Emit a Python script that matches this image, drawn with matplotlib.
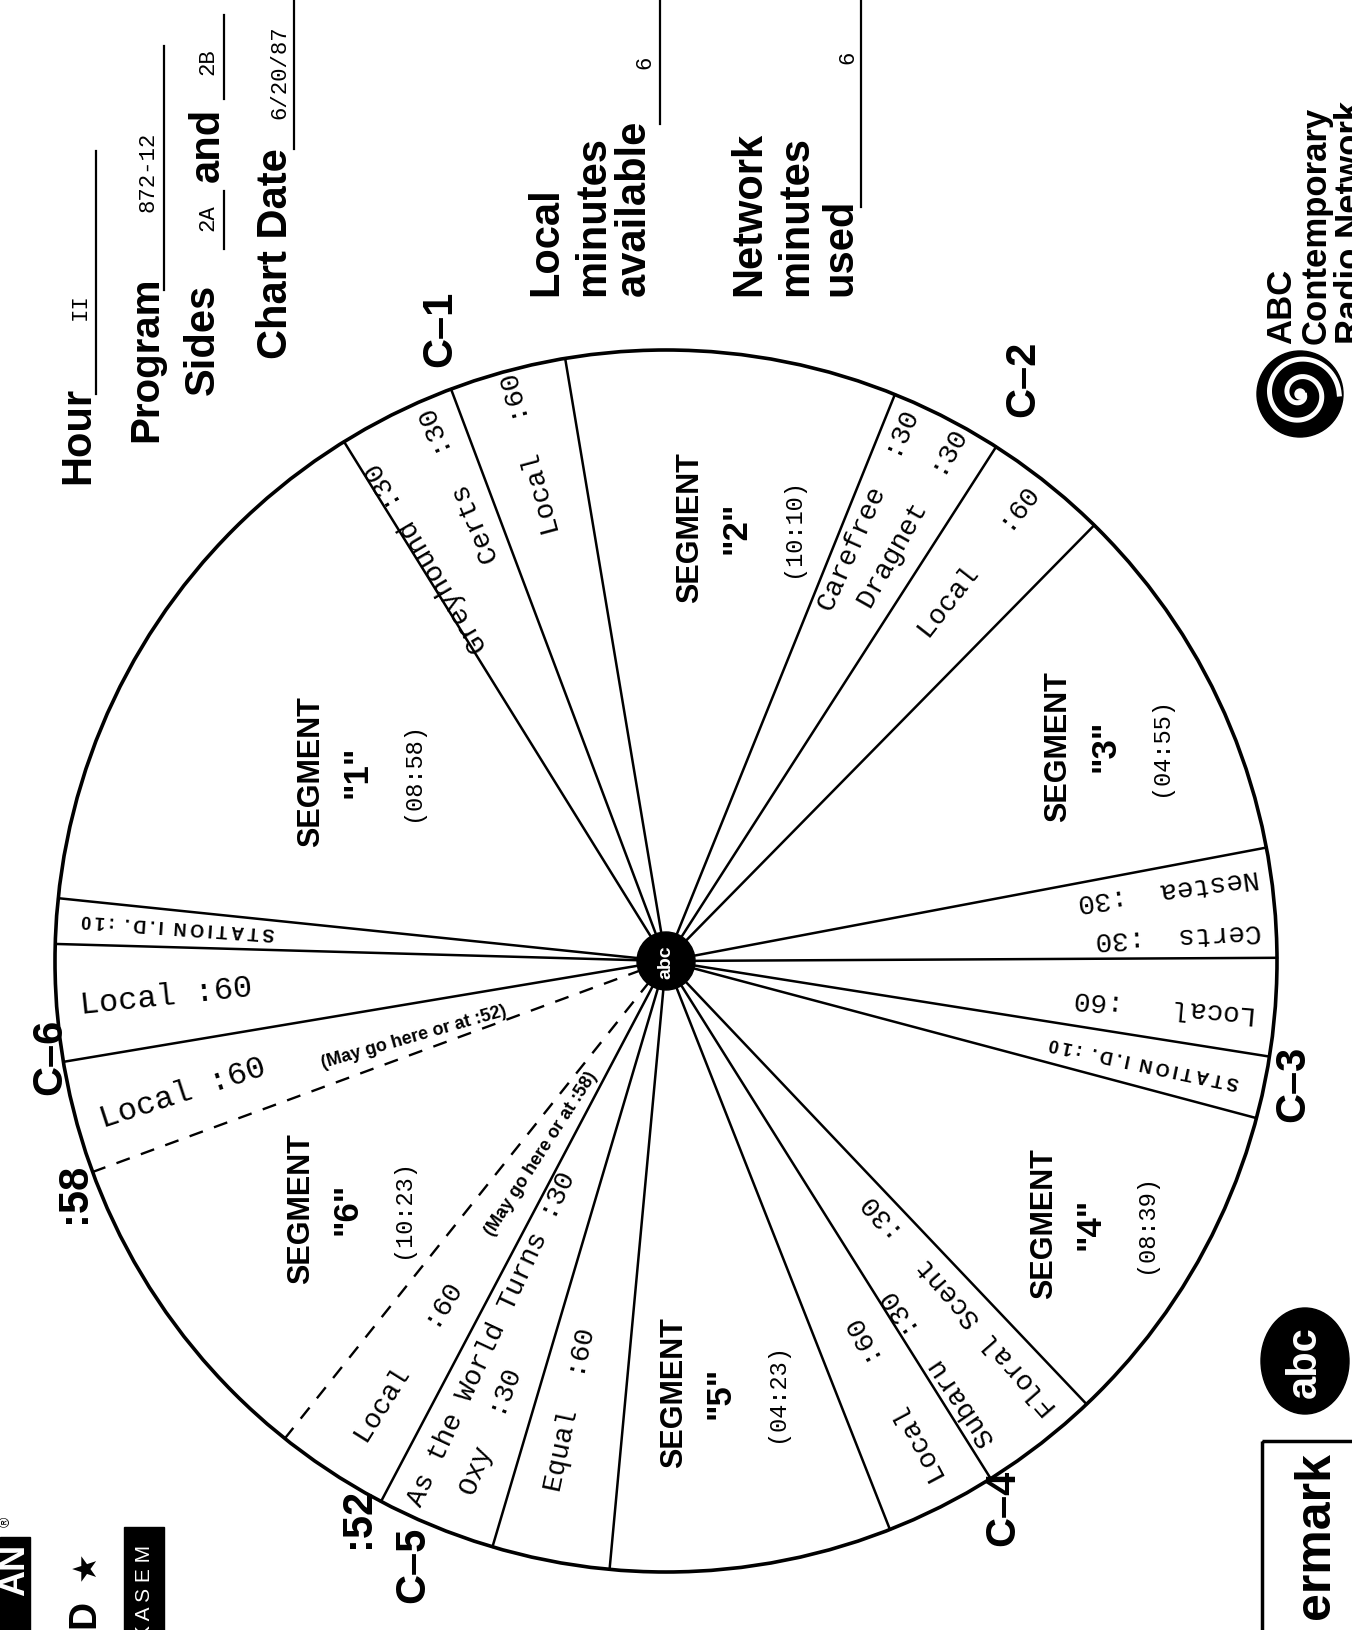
import numpy as np
import matplotlib.pyplot as plt
from matplotlib.patches import Circle, Ellipse, Rectangle

W, H = 1352, 1631
cx, cy, R = 666, 962, 611

SANS = ['Liberation Sans', 'DejaVu Sans']
NARROW = ['Liberation Sans Narrow', 'Liberation Sans', 'DejaVu Sans']
MONO = ['Liberation Mono', 'DejaVu Sans Mono']

# clock face, angles in degrees clockwise from :00 (left side of the turned sheet)
solid_lines = [1.6, 5.9, 58.2, 69.4, 80.5, 112.0, 122.7, 134.5, 169.3, 179.7,
               189.0, 194.9, 226.5, 237.9, 248.5, 275.3, 286.5, 297.8, 350.5]
dashed_lines = [308.6, 339.8]

seg_numbers = ['1', '2', '3', '4', '5', '6']
seg_times = ['(08:58)', '(10:10)', '(04:55)', '(08:39)', '(04:23)', '(10:23)']
seg_angle = [31.6, 99.2, 153.8, 211.7, 262.8, 322.3]
seg_radius = [0.594, 0.72, 0.80, 0.815, 0.71, 0.66]

spot_text = ['STATION I.D.  :10', 'Local :60', 'Local :60', 'Local   :60',
             'As the World Turns :30', 'Oxy  :30', 'Equal  :60', 'Local   :60',
             'Subaru  :30', 'Floral Scent  :30', 'STATION I.D.  :10', 'Local   :60',
             'Certs  :30', 'Nestea  :30', 'Local   :60', 'Dragnet  :30',
             'Carefree  :30', 'Local  :60', 'Certs  :30', 'Greyhound :30']
spot_angle = [4.2, 356.0, 344.8, 302.5, 294.8, 290.3, 282.0, 242.1, 236.1, 229.4,
              191.8, 185.0, 177.0, 171.8, 128.2, 119.3, 114.3, 75.2, 66.7, 59.4]
spot_radius = [0.80, 0.82, 0.82, 0.78, 0.68, 0.82, 0.75, 0.81, 0.80, 0.74,
               0.80, 0.82, 0.84, 0.83, 0.83, 0.83, 0.81, 0.86, 0.85, 0.77]
spot_rot = [176, 6, 18, 58, 65, 69, 78, 118, 124, 131,
            168, 175, 183, 188, 52, 60.5, 66, 105, 113, 120.5]

breaks = ['C–1', 'C–2', 'C–3', 'C–4', 'C–5', 'C–6', ':52', ':58']
break_angle = [70.4, 121.5, 191.0, 238.3, 292.7, 351.2, 299.0, 338.7]
break_radius = [1.10, 1.12, 1.045, 1.05, 1.07, 1.02, 1.04, 1.04]


def pt(phi, r):
    a = np.radians(phi)
    return cx - r * R * np.cos(a), cy - r * R * np.sin(a)


def spaced(s):
    return '\u2009'.join(s)


fig = plt.figure(figsize=(W / 100, H / 100), dpi=100)
ax = fig.add_axes([0, 0, 1, 1])
ax.set_xlim(0, W)
ax.set_ylim(H, 0)
ax.axis('off')

# clock
ax.add_patch(Circle((cx, cy), R, fill=False, lw=2.6, ec='black'))
for a in solid_lines:
    x, y = pt(a, 1.0)
    ax.plot([cx, x], [cy, y], color='black', lw=1.8)
for a in dashed_lines:
    x, y = pt(a, 1.0)
    ax.plot([cx, x], [cy, y], color='black', lw=1.7, dashes=(6, 5))

ax.add_patch(Circle((cx, cy), 29, color='black', zorder=5))
ax.text(cx, cy, 'abc', color='white', fontsize=14, fontweight='bold', rotation=90,
        ha='center', va='center', family=SANS, zorder=6)

for n, t, a, r in zip(seg_numbers, seg_times, seg_angle, seg_radius):
    x, y = pt(a, r)
    ax.text(x - 46, y, 'SEGMENT', fontsize=22, fontweight='bold', rotation=90,
            ha='center', va='center', family=NARROW)
    ax.text(x, y, '"' + n + '"', fontsize=25, fontweight='bold', rotation=90,
            ha='center', va='center', family=SANS)
    ax.text(x + 56, y, t, fontsize=17, rotation=90, ha='center', va='center', family=MONO)

for t, a, r, rot in zip(spot_text, spot_angle, spot_radius, spot_rot):
    x, y = pt(a, r)
    if t.startswith('STATION'):
        ax.text(x, y, spaced('STATION') + '  ' + spaced('I.D.') + '  ' + spaced(':10'),
                fontsize=13, fontweight='bold', rotation=rot, family=SANS,
                ha='center', va='center', rotation_mode='anchor')
    else:
        fs = 23 if (a > 340 and a < 360) else 20
        ax.text(x, y, t, fontsize=fs, rotation=rot, family=MONO,
                ha='center', va='center', rotation_mode='anchor')

x, y = pt(343.3, 0.43)
ax.text(x, y, '(May go here or at :52)', fontsize=13, fontweight='bold', rotation=16,
        family=NARROW, ha='center', va='center', rotation_mode='anchor')
x, y = pt(303.0, 0.375)
ax.text(x, y, '(May go here or at :58)', fontsize=13, fontweight='bold', rotation=57,
        family=NARROW, ha='center', va='center', rotation_mode='anchor')

for t, a, r in zip(breaks, break_angle, break_radius):
    x, y = pt(a, r)
    ax.text(x, y, t, fontsize=30, fontweight='bold', rotation=90, family=SANS,
            ha='center', va='center')


# header
def head(x, y, s, fs=30):
    ax.text(x, y, s, fontsize=fs, fontweight='bold', rotation=90, family=SANS,
            ha='left', va='center', rotation_mode='anchor')


def typed(x, y, s, fs=16):
    ax.text(x, y, s, fontsize=fs, rotation=90, family=MONO,
            ha='center', va='center', rotation_mode='anchor')


def rule(x, y0, y1):
    ax.plot([x, x], [y0, y1], color='black', lw=1.6)


head(78, 484, 'Hour')
rule(96, 152, 395)
typed(80, 307, 'II')
head(146, 442, 'Program', fs=29)
rule(164, 47, 291)
typed(148, 172, '872-12')
head(203, 395, 'Sides')
rule(224, 192, 250)
typed(208, 218, '2A')
head(208, 182, 'and')
rule(224, 16, 100)
typed(208, 62, '2B')
head(276, 359, 'Chart Date')
rule(294, 0, 150)
typed(280, 72, '6/20/87')

head(546, 296, 'Local')
head(593, 296, 'minutes')
head(634, 296, 'available')
rule(660, 0, 125)
typed(645, 62, '6')
head(749, 296, 'Network')
head(796, 296, 'minutes')
head(840, 296, 'used')
rule(861, 0, 208)
typed(848, 57, '6')

# ABC Contemporary logo
lx, ly = 1300, 395
ax.add_patch(Circle((lx, ly), 43, color='black'))
th = np.linspace(0.3, 4.0 * np.pi, 300)
rr = 4 + 2.8 * th
ax.plot(lx + rr * np.cos(th), ly + rr * np.sin(th), color='white', lw=3.6)
ax.add_patch(Circle((lx, ly), 5, color='white'))
for s, xo in zip(['ABC', 'Contemporary', 'Radio Network'], [1282, 1316, 1350]):
    ax.text(xo, 344, s, fontsize=25, fontweight='bold', rotation=90, family=SANS,
            ha='left', va='center', rotation_mode='anchor')

# abc logo bottom right
ax.add_patch(Ellipse((1305, 1362), 88, 106, color='black'))
ax.text(1305, 1362, 'abc', color='white', fontsize=30, fontweight='bold', rotation=90,
        ha='center', va='center', family=SANS)

# cut-off box bottom right
ax.add_patch(Rectangle((1262, 1442), 120, 300, fill=False, lw=2.5, ec='black'))
ax.text(1316, 1452, 'ermark', fontsize=36, fontweight='bold', rotation=90, family=SANS,
        ha='right', va='center', rotation_mode='anchor')

# cut-off logos bottom left
ax.add_patch(Rectangle((0, 1538), 30, 100, color='black'))
ax.text(15, 1544, 'AN', color='white', fontsize=26, fontweight='bold', rotation=90,
        family=SANS, ha='right', va='center', rotation_mode='anchor')
ax.text(6, 1522, '®', fontsize=10, rotation=90, family=SANS, ha='center', va='center')
ax.text(86, 1566, '★', fontsize=24, rotation=90, family=['DejaVu Sans'], ha='center', va='center')
ax.text(84, 1614, 'D', fontsize=28, fontweight='bold', rotation=90, family=SANS,
        ha='center', va='center')
ax.add_patch(Rectangle((124, 1528), 40, 110, color='black'))
ax.text(144, 1545, 'K A S E M', color='white', fontsize=15, rotation=90, family=SANS,
        ha='right', va='center', rotation_mode='anchor')

fig.savefig('out.png', dpi=100)
